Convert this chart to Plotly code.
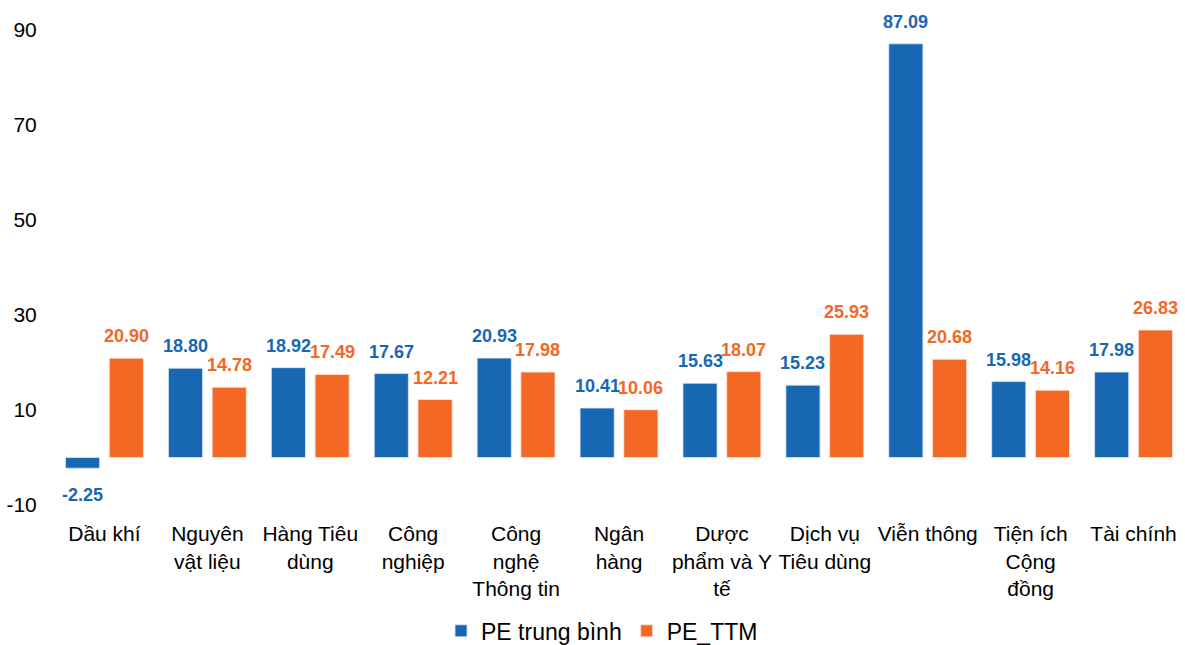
import plotly.graph_objects as go

# Sector names (line breaks as shown under each group)
categories = [
    "Dầu khí",
    "Nguyên<br>vật liệu",
    "Hàng Tiêu<br>dùng",
    "Công<br>nghiệp",
    "Công<br>nghệ<br>Thông tin",
    "Ngân<br>hàng",
    "Dược<br>phẩm và Y<br>tế",
    "Dịch vụ<br>Tiêu dùng",
    "Viễn thông",
    "Tiện ích<br>Cộng<br>đồng",
    "Tài chính",
]
pe_avg = [-2.25, 18.80, 18.92, 17.67, 20.93, 10.41, 15.63, 15.23, 87.09, 15.98, 17.98]
pe_ttm = [20.90, 14.78, 17.49, 12.21, 17.98, 10.06, 18.07, 25.93, 20.68, 14.16, 26.83]

y_ticks = [-10, 10, 30, 50, 70, 90]

BLUE = "#1767B3"
ORANGE = "#F26824"
FONT = "Arial, Liberation Sans, sans-serif"

fig = go.Figure()
fig.add_trace(go.Bar(
    name="PE trung bình", x=categories, y=pe_avg,
    marker=dict(color=BLUE, line=dict(color="#DCE6F2", width=0.8)),
))
fig.add_trace(go.Bar(
    name="PE_TTM", x=categories, y=pe_ttm,
    marker=dict(color=ORANGE, line=dict(color="#FBE3D6", width=0.8)),
))

# Value labels above (or below, for negatives) each bar
for series, color, offset in ((pe_avg, BLUE, -0.5), (pe_ttm, ORANGE, 0.5)):
    for i, v in enumerate(series):
        fig.add_annotation(
            x=i + offset * 0.425, y=v, xref="x", yref="y",
            text=f"{v:.2f}", showarrow=False,
            yshift=22 if v >= 0 else -27,
            font=dict(family=FONT, size=18, color=color, weight="bold"),
            xanchor="center", yanchor="middle",
        )

fig.update_layout(
    width=1185, height=645,
    margin=dict(l=53, r=0, t=30, b=140, autoexpand=False),
    paper_bgcolor="white", plot_bgcolor="white",
    barmode="group", bargap=0.15, bargroupgap=0.22,
    font=dict(family=FONT, size=21, color="#000000"),
    showlegend=True,
    legend=dict(
        orientation="h", x=0.485, xanchor="center", y=-0.265, yanchor="middle",
        font=dict(family=FONT, size=23, color="#000000"),
        itemwidth=30,
    ),
    xaxis=dict(
        type="category", showgrid=False, zeroline=False, showline=False,
        tickfont=dict(family=FONT, size=21), automargin=False,
        ticks="outside", ticklen=10, tickcolor="rgba(0,0,0,0)",
    ),
    yaxis=dict(
        range=[-10, 90], tickvals=y_ticks, ticktext=[str(t) for t in y_ticks],
        showgrid=False, zeroline=False, automargin=False,
        showline=False, ticks="outside", ticklen=11, tickcolor="rgba(0,0,0,0)",
        tickfont=dict(family=FONT, size=21),
    ),
)

fig.write_html("out.html")
